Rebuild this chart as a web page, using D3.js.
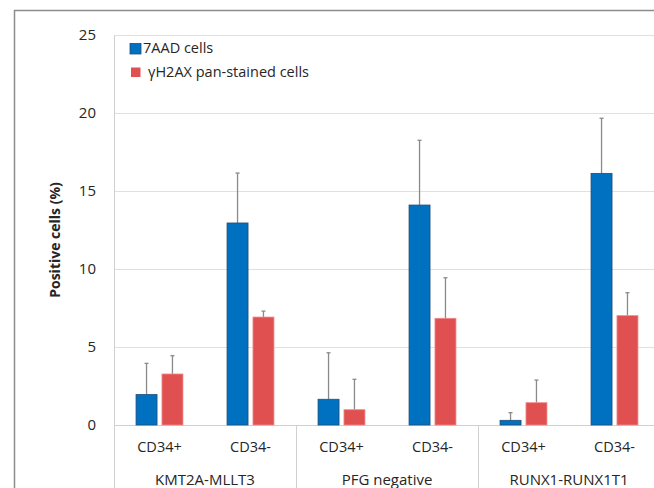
<!DOCTYPE html>
<html>
<head>
<meta charset="utf-8">
<script src="https://cdn.jsdelivr.net/npm/d3@7"></script>
<style>
  body { margin: 0; background: #fff; }
  text { font-family: "Open Sans", sans-serif; fill: #262626; }
</style>
</head>
<body>
<div id="chart-area"></div>
<script>
var groups = ["KMT2A-MLLT3", "PFG negative", "RUNX1-RUNX1T1"];
var subgroups = ["CD34+", "CD34-"];
var seriesNames = ["7AAD cells", "\u03b3H2AX pan-stained cells"];
var seriesColors = ["#0070c0", "#e05050"];
var seriesStroke = ["#1f4e79", "#f08a8a"];

// values per group, [CD34+, CD34-]
var aadValues = [[1.95, 12.95], [1.65, 14.1], [0.3, 16.13]];
var aadErrors = [[2.0, 3.2], [2.98, 4.15], [0.49, 3.53]];
var h2axValues = [[3.27, 6.92], [0.98, 6.84], [1.43, 7.01]];
var h2axErrors = [[1.17, 0.38], [1.95, 2.6], [1.45, 1.47]];

var yTicks = [0, 5, 10, 15, 20, 25];

var width = 654, height = 488;

var svg = d3.select("#chart-area")
    .append("svg")
    .attr("width", width)
    .attr("height", height);

// outer frame
svg.append("path")
    .attr("d", "M14.5,488 V10.5 H654")
    .attr("fill", "none")
    .attr("stroke", "#8c8c8c")
    .attr("stroke-width", 1.5);

var plotLeft = 114, plotRight = 660, plotTop = 35, plotBottom = 425;

var y = d3.scaleLinear().domain([0, 25]).range([plotBottom, plotTop]);

var x0 = d3.scaleBand().domain(groups).range([plotLeft, plotRight]);
var x1 = d3.scaleBand().domain(subgroups).range([0, x0.bandwidth()]);
var x2 = d3.scaleBand().domain([0, 1]).range([0, x1.bandwidth()])
    .paddingInner(0.19).paddingOuter(0.85);

// gridlines
svg.append("g")
    .selectAll("line")
    .data(yTicks.filter(d => d > 0))
    .enter()
    .append("line")
    .attr("x1", plotLeft).attr("x2", plotRight)
    .attr("y1", d => Math.round(y(d)) + 0.5)
    .attr("y2", d => Math.round(y(d)) + 0.5)
    .attr("stroke", "#e0e0e0");

// y axis
var yAxis = svg.append("g")
    .attr("transform", "translate(" + plotLeft + ",0)")
    .call(d3.axisLeft(y).tickValues(yTicks).tickSize(0).tickPadding(18));
yAxis.select(".domain").remove();
yAxis.selectAll("text")
    .style("font-family", "Open Sans, sans-serif")
    .style("font-size", "15px")
    .attr("fill", "#262626");

svg.append("line")
    .attr("x1", plotLeft + 0.5).attr("x2", plotLeft + 0.5)
    .attr("y1", plotTop).attr("y2", height)
    .attr("stroke", "#d0d0d0");

svg.append("text")
    .attr("transform", "translate(60,240) rotate(-90)")
    .attr("text-anchor", "middle")
    .style("font-size", "14px")
    .style("font-weight", "bold")
    .attr("fill", "#111")
    .text("Positive cells (%)");

// x axis base and separators
svg.append("line")
    .attr("x1", plotLeft).attr("x2", plotRight)
    .attr("y1", plotBottom + 0.5).attr("y2", plotBottom + 0.5)
    .attr("stroke", "#d0d0d0");

svg.append("g")
    .selectAll("line")
    .data(groups.slice(1))
    .enter()
    .append("line")
    .attr("x1", d => Math.round(x0(d)) + 0.5)
    .attr("x2", d => Math.round(x0(d)) + 0.5)
    .attr("y1", plotBottom).attr("y2", height)
    .attr("stroke", "#d0d0d0");

// bars
var rows = [];
groups.forEach(function(g, gi) {
    subgroups.forEach(function(s, si) {
        rows.push({g: g, s: s, k: 0, v: aadValues[gi][si], e: aadErrors[gi][si]});
        rows.push({g: g, s: s, k: 1, v: h2axValues[gi][si], e: h2axErrors[gi][si]});
    });
});

function barX(d) { return x0(d.g) + x1(d.s) + x2(d.k); }

svg.append("g")
    .selectAll("line")
    .data(rows)
    .enter()
    .append("line")
    .attr("x1", d => barX(d) + x2.bandwidth() / 2)
    .attr("x2", d => barX(d) + x2.bandwidth() / 2)
    .attr("y1", d => y(d.v))
    .attr("y2", d => y(d.v + d.e))
    .attr("stroke", "#8a8a8a")
    .attr("stroke-width", 1.3);

svg.append("g")
    .selectAll("line")
    .data(rows)
    .enter()
    .append("line")
    .attr("x1", d => barX(d) + x2.bandwidth() / 2 - 2)
    .attr("x2", d => barX(d) + x2.bandwidth() / 2 + 2)
    .attr("y1", d => y(d.v + d.e))
    .attr("y2", d => y(d.v + d.e))
    .attr("stroke", "#8a8a8a")
    .attr("stroke-width", 1.3);

svg.append("g")
    .selectAll("rect")
    .data(rows)
    .enter()
    .append("rect")
    .attr("x", d => barX(d))
    .attr("y", d => y(d.v))
    .attr("width", x2.bandwidth())
    .attr("height", d => plotBottom - y(d.v))
    .attr("fill", d => seriesColors[d.k])
    .attr("stroke", d => seriesStroke[d.k])
    .attr("stroke-width", 0.8);

// sub labels
rows.filter(d => d.k === 0).forEach(function(d) {
    svg.append("text")
        .attr("x", x0(d.g) + x1(d.s) + x1.bandwidth() / 2)
        .attr("y", 452)
        .attr("text-anchor", "middle")
        .style("font-size", "14.5px")
        .text(d.s);
});

svg.append("g")
    .selectAll("text")
    .data(groups)
    .enter()
    .append("text")
    .attr("x", d => x0(d) + x0.bandwidth() / 2)
    .attr("y", 485)
    .attr("text-anchor", "middle")
    .style("font-size", "15px")
    .text(d => d);

// legend
var legend = svg.append("g");
legend.append("rect")
    .attr("x", 130).attr("y", 43.5).attr("width", 11).attr("height", 10.5)
    .attr("fill", seriesColors[0]).attr("stroke", seriesStroke[0]).attr("stroke-width", 0.8);
legend.append("text")
    .attr("x", 143).attr("y", 53)
    .style("font-size", "14.5px")
    .text(seriesNames[0]);
legend.append("rect")
    .attr("x", 131).attr("y", 67.5).attr("width", 9.5).attr("height", 9.5)
    .attr("fill", seriesColors[1]);
legend.append("text")
    .attr("x", 148).attr("y", 77)
    .style("font-size", "14.5px")
    .text(seriesNames[1]);
</script>
</body>
</html>
